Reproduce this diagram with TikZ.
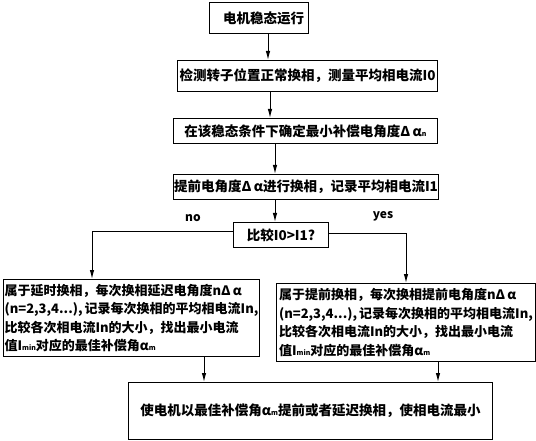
\documentclass[tikz,border=0pt]{standalone}
\usepackage{fontspec}
\setmainfont{Noto Sans CJK SC}
\usetikzlibrary{arrows.meta}
\newcommand{\idx}[1]{{\fontsize{7}{7}\selectfont #1}}

\begin{document}
\begin{tikzpicture}[x=1pt,y=-1pt,->,>={Latex[length=9pt,width=4.5pt]},line width=1pt,
  font=\fontsize{13.5}{18.5}\selectfont\bfseries,
  flow box/.style={draw,anchor=north west,inner sep=0pt,align=left},
  test box/.style={flow box,align=center},
  case box/.style={flow box,font=\fontsize{13}{18.5}\selectfont\bfseries},
  branch label/.style={font=\fontsize{12}{12}\selectfont\bfseries}]
  \useasboundingbox (0,0) rectangle (536,441);
  \node[flow box, minimum width=99pt, minimum height=31pt] (run) at (209,2) {\hspace*{9pt}电机稳态运行};
  \node[flow box, minimum width=260pt, minimum height=31pt] (detect) at (177,60) {检测转子位置正常换相，测量平均相电流I0};
  \node[flow box, minimum width=264pt, minimum height=25pt] (minangle) at (173,118) {在该稳态条件下确定最小补偿电角度Δ\,α\idx{n}};
  \node[flow box, minimum width=265pt, minimum height=25pt] (advance) at (173,174) {提前电角度Δ\,α进行换相，记录平均相电流I1};
  \node[test box, minimum width=95pt, minimum height=25pt] (compare) at (233,222) {比较I0>I1?};
  \node[case box, minimum width=256pt, minimum height=77pt] (delay) at (3,279)
    {属于延时换相，每次换相延迟电角度nΔ\,α\\(n=2,3,4...),\,记录每次换相的平均相电流In,\\比较各次相电流In的大小，找出最小电流\\值I\idx{min}对应的最佳补偿角α\idx{m}};
  \node[case box, minimum width=259pt, minimum height=78pt] (lead) at (276,283)
    {属于提前换相，每次换相提前电角度nΔ\,α\\(n=2,3,4...),\,记录每次换相的平均相电流In,\\比较各次相电流In的大小，找出最小电流\\值I\idx{min}对应的最佳补偿角α\idx{m}};
  \node[flow box, minimum width=364pt, minimum height=57pt] (best) at (128,382) {使电机以最佳补偿角α\idx{m}提前或者延迟换相，使相电流最小};
  \node[branch label] (no) at (193,218) {no};
  \node[branch label] (yes) at (383,216) {yes};
  % columns of the connectors
  \coordinate (c1) at (268,0);
  \coordinate (c2) at (270,0);
  \coordinate (c3) at (275,0);
  \coordinate (cn) at (92,0);
  \coordinate (cy) at (406,0);
  \coordinate (cl) at (204,0);
  \coordinate (cr) at (438,0);
  \draw (run.south -| c1) -- (detect.north -| c1);
  \draw (detect.south -| c2) -- (minangle.north -| c2);
  \draw (minangle.south -| c3) -- (advance.north -| c3);
  \draw (advance.south -| c3) -- (compare.north -| c3);
  \draw ([yshift=3pt]compare.west) -| (delay.north -| cn);
  \draw ([yshift=1.5pt]compare.east) -| (lead.north -| cy);
  \draw (delay.south -| cl) -- (best.north -| cl);
  \draw (lead.south -| cr) -- (best.north -| cr);
\end{tikzpicture}
\end{document}
